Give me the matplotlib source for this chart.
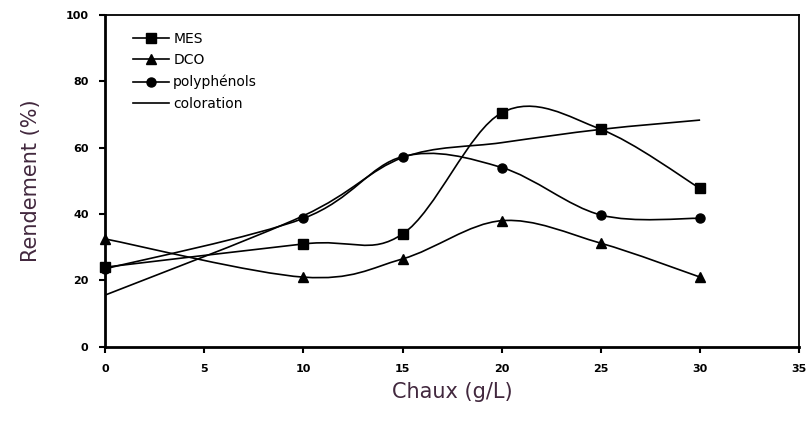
import numpy as np
import matplotlib
matplotlib.use("Agg")
import matplotlib.pyplot as plt
from matplotlib.path import Path
from matplotlib.patches import PathPatch
from matplotlib.lines import Line2D

# data
chaux = [0, 10, 15, 20, 25, 30]
mes = [24, 31, 34, 70.5, 65.5, 47.7]
dco = [32.5, 21, 26.5, 38, 31.2, 21]
polyphenols = [23.5, 38.7, 57.3, 54, 39.7, 38.7]
coloration = [15.6, 39.5, 57, 61.5, 65.5, 68.3]

labels = ["MES", "DCO", "polyphénols", "coloration"]
markers = ["s", "^", "o", None]
label_color = "#42283e"


def smooth_path(x, y):
    # cubic bezier through every point (Catmull-Rom tangents)
    pts = np.column_stack([x, y]).astype(float)
    ext = np.vstack([pts[0], pts, pts[-1]])
    verts = [pts[0]]
    codes = [Path.MOVETO]
    for i in range(len(pts) - 1):
        p0, p1, p2, p3 = ext[i], ext[i + 1], ext[i + 2], ext[i + 3]
        verts += [p1 + (p2 - p0) / 6, p2 - (p3 - p1) / 6, p2]
        codes += [Path.CURVE4] * 3
    return Path(verts, codes)


fig = plt.figure(figsize=(8.09, 4.23), dpi=100)
ax = fig.add_axes([0.130, 0.180, 0.858, 0.785])

handles = []
for ys, lab, mk in zip([mes, dco, polyphenols, coloration], labels, markers):
    ax.add_patch(PathPatch(smooth_path(chaux, ys), facecolor="none",
                           edgecolor="black", lw=1.2, clip_on=False))
    if mk:
        ax.plot(chaux, ys, linestyle="none", marker=mk, color="black", ms=6.5,
                clip_on=False, zorder=3)
    handles.append(Line2D([], [], color="black", lw=1.2, marker=mk, ms=6.5))

ax.legend(handles, labels, loc="upper left", bbox_to_anchor=(0.03, 0.97),
          frameon=False, fontsize=10, handlelength=2.6, handletextpad=0.3,
          labelspacing=0.55, borderpad=0)

ax.set_xlim(0, 35)
ax.set_ylim(0, 100)
ax.set_xticks(range(0, 36, 5))
ax.set_yticks(range(0, 101, 20))
ax.tick_params(direction="out", length=4, width=1.5, labelsize=8, pad=8)
for t in ax.get_xticklabels() + ax.get_yticklabels():
    t.set_fontweight("bold")
for s in ax.spines.values():
    s.set_linewidth(1.3)
ax.spines["left"].set_linewidth(2)
ax.spines["bottom"].set_linewidth(2)

ax.set_xlabel("Chaux (g/L)", fontsize=15, color=label_color, labelpad=6)
ax.set_ylabel("Rendement (%)", fontsize=15, color=label_color, labelpad=18)

fig.savefig("out.png", dpi=100)
